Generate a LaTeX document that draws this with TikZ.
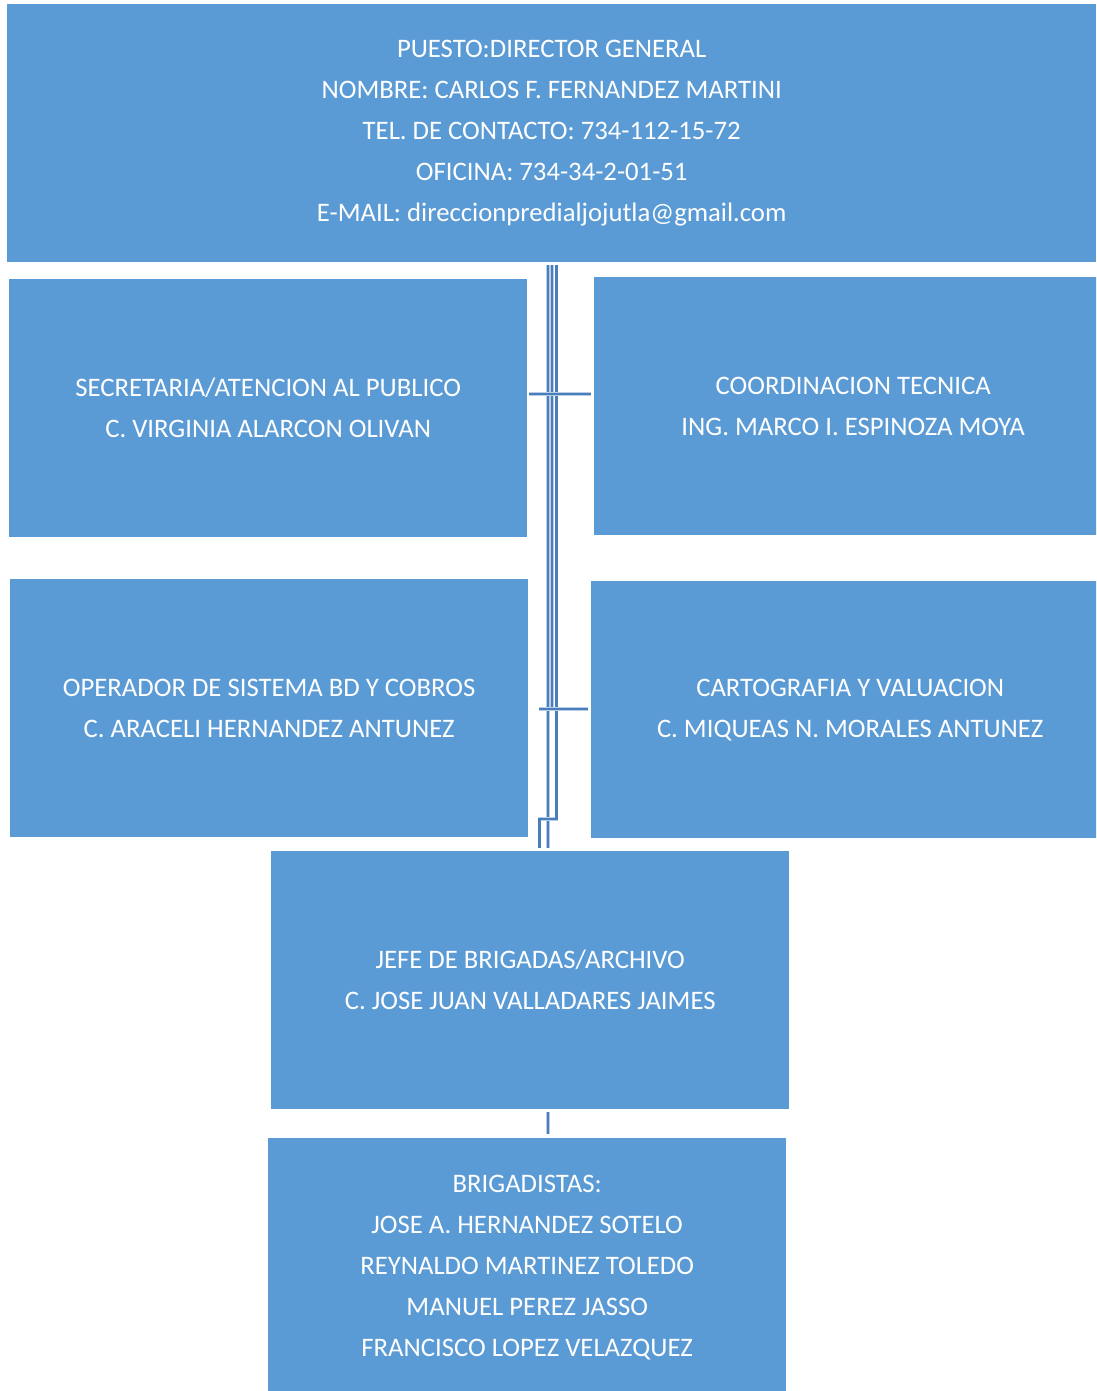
\documentclass[tikz,border=0pt]{standalone}
\usepackage{fontspec}
\setmainfont{Carlito}
\usetikzlibrary{calc}
\definecolor{boxfill}{HTML}{5B9BD5}
\definecolor{linec}{HTML}{4A7EBB}
\definecolor{halo}{HTML}{B9CFE8}
\begin{document}
\begin{tikzpicture}[x=1pt,y=-1pt,
  orgbox/.style={rectangle, fill=boxfill, anchor=north west, inner sep=0pt,
    text=white, align=center, font=\fontsize{26.7}{41}\selectfont},
  conn/.style={draw=linec, line width=2.2pt, line join=miter,
    preaction={draw=halo, line width=3.6pt}}]
\clip (0,0) rectangle (1096,1391);
\fill[white] (0,0) rectangle (1096,1391);

% boxes of the chart
\node[orgbox, minimum width=1089, minimum height=258] (top) at (7,4)
  {PUESTO:DIRECTOR GENERAL\\NOMBRE: CARLOS F. FERNANDEZ MARTINI\\TEL. DE CONTACTO: 734-112-15-72\\OFICINA: 734-34-2-01-51\\E-MAIL: direccionpredialjojutla@gmail.com};
\node[orgbox, minimum width=518, minimum height=258] (sec) at (9,279)
  {SECRETARIA/ATENCION AL PUBLICO\\C. VIRGINIA ALARCON OLIVAN};
\node[orgbox, minimum width=518, minimum height=258] (coord) at (594,277)
  {COORDINACION TECNICA\\ING. MARCO I. ESPINOZA MOYA};
\node[orgbox, minimum width=518, minimum height=258] (oper) at (10,579)
  {OPERADOR DE SISTEMA BD Y COBROS\\C. ARACELI HERNANDEZ ANTUNEZ};
\node[orgbox, minimum width=518, minimum height=257] (carto) at (591,581)
  {CARTOGRAFIA Y VALUACION\\C. MIQUEAS N. MORALES ANTUNEZ};
\node[orgbox, minimum width=518, minimum height=258] (jefe) at (271,851)
  {JEFE DE BRIGADAS/ARCHIVO\\C. JOSE JUAN VALLADARES JAIMES};
\node[orgbox, minimum width=518, minimum height=259] (brig) at (268,1138)
  {BRIGADISTAS:\\JOSE A. HERNANDEZ SOTELO\\REYNALDO MARTINEZ TOLEDO\\MANUEL PEREZ JASSO\\FRANCISCO LOPEZ VELAZQUEZ};

% bus lines leaving the director box
\coordinate (a0) at (548,265);
\coordinate (b0) at (552,265);
\coordinate (c0) at (556.5,265);
\coordinate (c1) at (556.5,819);
\coordinate (d1) at (539.5,819);
\coordinate (h1) at (0,394);
\coordinate (h2) at (0,709);

\draw[conn] (a0) -- ($(a0 |- jefe.north)+(0,-3)$);
\draw[conn] (b0) -- (b0 |- h2);
\draw[conn] (c0) -- (c1) -- (d1) -- ($(d1 |- jefe.north)+(0,-3)$);

% branches to the side boxes
\draw[conn] ($(sec.east |- h1)+(2,0)$) -- ($(coord.west |- h1)+(-3,0)$);
\draw[conn] ($(oper.east |- h2)+(11,0)$) -- ($(carto.west |- h2)+(-3,0)$);

% link to the brigade crew
\draw[conn] ($(a0 |- jefe.south)+(0,3)$) -- ($(a0 |- brig.north)+(0,-4)$);
\end{tikzpicture}
\end{document}
